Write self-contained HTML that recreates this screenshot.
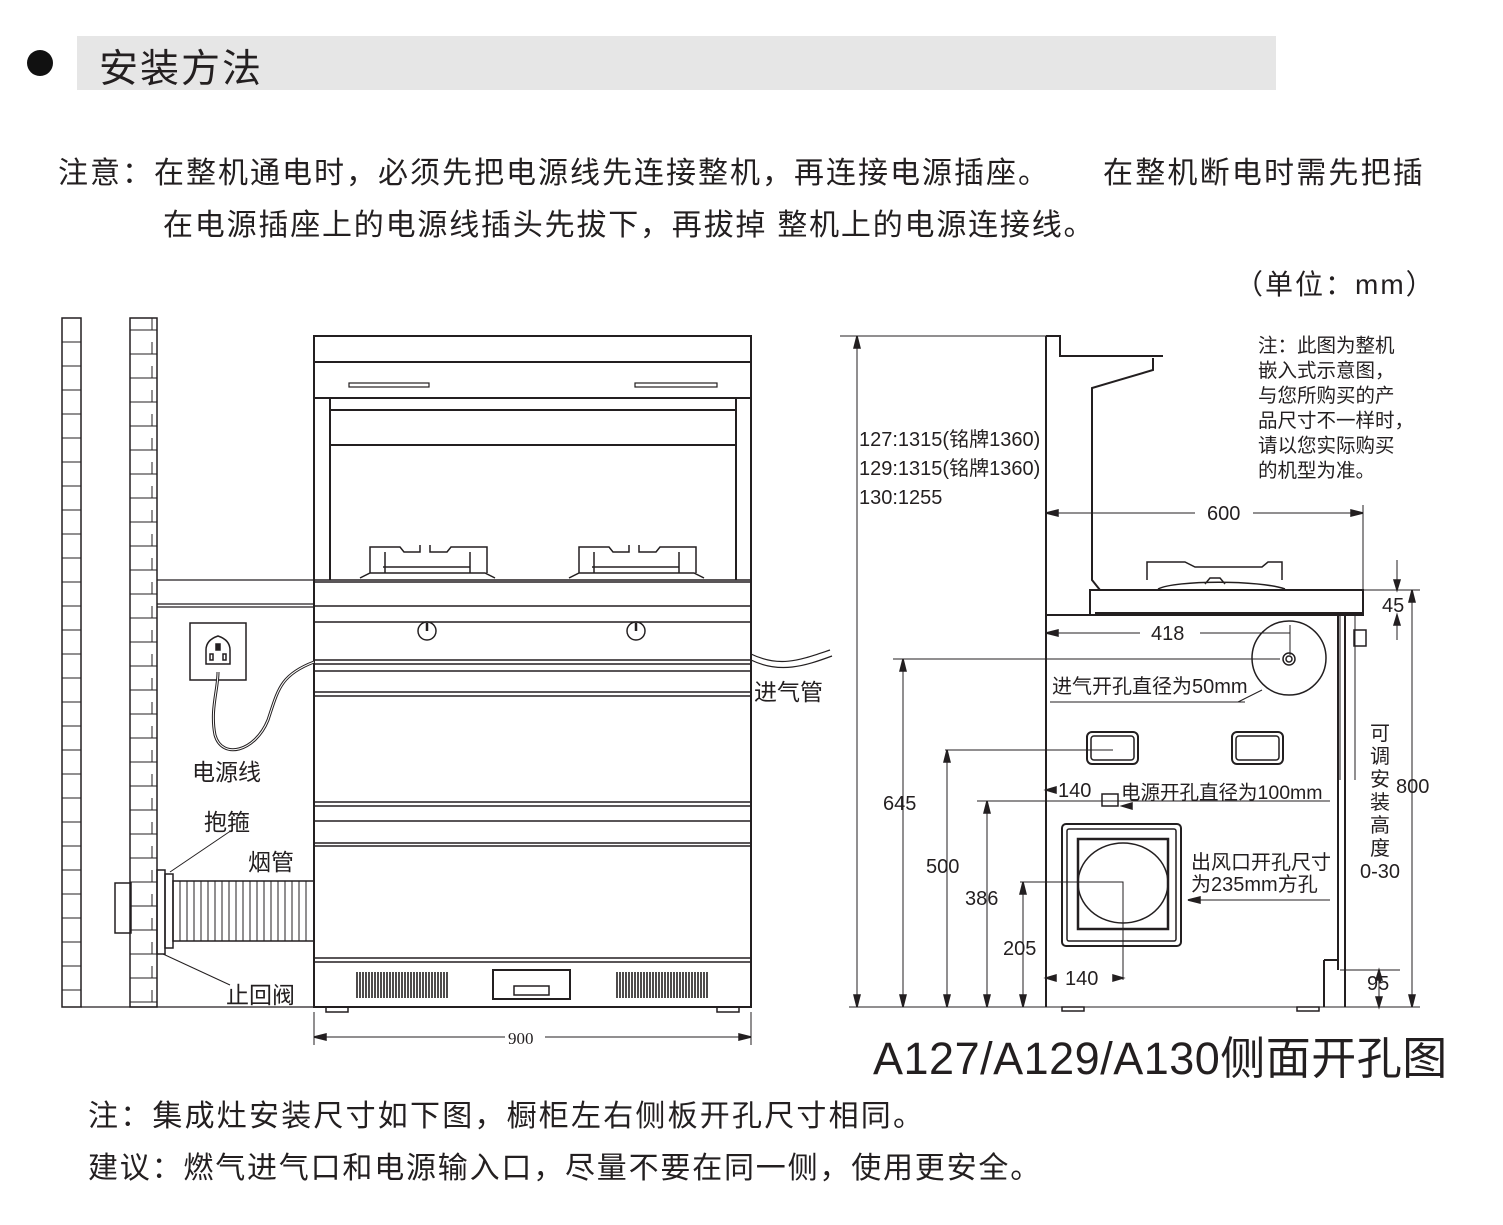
<!DOCTYPE html>
<html><head><meta charset="utf-8"><style>
html,body{margin:0;padding:0;background:#fff;}
body{width:1503px;height:1225px;position:relative;overflow:hidden;font-family:"Liberation Sans","Noto Sans CJK SC",sans-serif;color:#231f20;}
.t{position:absolute;white-space:nowrap;font-family:"Liberation Sans","Noto Sans CJK SC",sans-serif;}
</style></head><body>
<div style="position:absolute;left:77px;top:36px;width:1199px;height:54px;background:#e6e6e6"></div>
<div style="position:absolute;left:27px;top:50px;width:26px;height:26px;border-radius:50%;background:#111"></div>
<div class="t" style="left:99px;top:38px;font-size:39px;letter-spacing:2px;">安装方法</div>
<div class="t" style="left:58px;top:148px;font-size:30px;letter-spacing:2px;">注意：在整机通电时，必须先把电源线先连接整机，再连接电源插座。</div>
<div class="t" style="left:1103px;top:148px;font-size:30px;letter-spacing:2.2px;">在整机断电时需先把插</div>
<div class="t" style="left:163px;top:200px;font-size:30px;letter-spacing:1.8px;">在电源插座上的电源线插头先拔下，再拔掉 整机上的电源连接线。</div>
<div class="t" style="left:1235px;top:263px;font-size:28px;letter-spacing:2px;">（单位：mm）</div>
<div class="t" style="left:873px;top:1022px;font-size:45px;letter-spacing:0.5px;">A127/A129/A130侧面开孔图</div>
<div class="t" style="left:88px;top:1091px;font-size:30px;letter-spacing:2.2px;">注：集成灶安装尺寸如下图，橱柜左右侧板开孔尺寸相同。</div>
<div class="t" style="left:88px;top:1143px;font-size:30px;letter-spacing:1.8px;">建议：燃气进气口和电源输入口，尽量不要在同一侧，使用更安全。</div>

<svg width="1503" height="1225" style="position:absolute;left:0;top:0" xmlns="http://www.w3.org/2000/svg" font-family="Liberation Sans, Noto Sans CJK SC, sans-serif" fill="none" stroke="#231f20" stroke-width="1.5">
<rect x="62" y="318" width="19" height="689"/>
<rect x="130" y="318" width="27" height="689"/>
<g stroke-width="1">
<path d="M62 342H81M62 366H81M62 390H81M62 414H81M62 438H81M62 462H81M62 486H81M62 510H81M62 534H81M62 558H81M62 582H81M62 606H81M62 630H81M62 654H81M62 678H81M62 702H81M62 726H81M62 750H81M62 774H81M62 798H81M62 822H81M62 846H81M62 870H81M62 894H81M62 918H81M62 942H81M62 966H81M62 990H81"/>
<path d="M130 330H157M130 354H157M130 378H157M130 402H157M130 426H157M130 450H157M130 474H157M130 498H157M130 522H157M130 546H157M130 570H157M130 594H157M130 618H157M130 642H157M130 666H157M130 690H157M130 714H157M130 738H157M130 762H157M130 786H157M130 810H157M130 834H157M130 858H157M130 882H157M130 906H157M130 930H157M130 954H157M130 978H157M130 1002H157"/>
<path d="M152 318V1007" stroke-dasharray="12 12"/>
</g>
<path d="M81 1007H314M157 580H314M157 607H314M157 604H314" stroke-width="1.2"/>
<rect x="314" y="336" width="437" height="671" stroke-width="2"/>
<path d="M314 362H751M314 398H751M330 398V580M736 398V580M330 410H736M330 445H736" stroke-width="2"/>
<rect x="349" y="383" width="80" height="4" stroke-width="1.2"/>
<rect x="635" y="383" width="82" height="4" stroke-width="1.2"/>
<path d="M314 580H751M314 582H751M314 606H751M314 622H751M314 660H751M314 664H751M314 671H751M314 692H751M314 696H751M314 802H751M314 806H751M314 821H751M314 843H751M314 846H751M314 958H751M314 962H751" stroke-width="1.5"/>
<g stroke-width="1.5">
<path d="M360 578L370 573H485L495 578M370 573V547H400L404 552H420V545M430 545V552H447L451 547H487V573M385 573V552M470 573V552M383 567H470"/>
<path d="M569 578L579 573H694L704 578M579 573V547H609L613 552H629V545M639 545V552H656L660 547H696V573M594 573V552M679 573V552M592 567H679"/>
</g>
<circle cx="427" cy="631" r="9"/><path d="M427 623V631" stroke-width="2.5"/>
<circle cx="636" cy="631" r="9"/><path d="M636 623V631" stroke-width="2.5"/>
<g stroke-width="1.6">
<path d="M357 972V998M360 972V998M363 972V998M366 972V998M369 972V998M372 972V998M375 972V998M378 972V998M381 972V998M384 972V998M387 972V998M390 972V998M393 972V998M396 972V998M399 972V998M402 972V998M405 972V998M408 972V998M411 972V998M414 972V998M417 972V998M420 972V998M423 972V998M426 972V998M429 972V998M432 972V998M435 972V998M438 972V998M441 972V998M444 972V998M447 972V998"/>
<path d="M617 972V998M620 972V998M623 972V998M626 972V998M629 972V998M632 972V998M635 972V998M638 972V998M641 972V998M644 972V998M647 972V998M650 972V998M653 972V998M656 972V998M659 972V998M662 972V998M665 972V998M668 972V998M671 972V998M674 972V998M677 972V998M680 972V998M683 972V998M686 972V998M689 972V998M692 972V998M695 972V998M698 972V998M701 972V998M704 972V998M707 972V998"/>
</g>
<rect x="493" y="970" width="77" height="29" stroke-width="2"/>
<rect x="514" y="986" width="35" height="9"/>
<rect x="326" y="1007" width="22" height="5"/><rect x="717" y="1007" width="22" height="5"/>
<path d="M314 1012V1045M751 1012V1045M314 1037H505M545 1037H751" stroke-width="1"/>
<path d="M314 1037l12-3v6zM751 1037l-12-3v6z" fill="#231f20"/>
<text x="508" y="1044" font-size="17" fill="#231f20" stroke="none" font-family="Liberation Serif, serif">900</text>
<rect x="190" y="623" width="56" height="57"/>
<path d="M206 664V650Q206 640 218 636Q230 640 230 650V664Z" stroke-width="1.5"/>
<rect x="216" y="644" width="4" height="6" fill="#231f20"/><rect x="210" y="654" width="3" height="6"/><rect x="223" y="654" width="3" height="6"/>
<path d="M218 672C218 690 210 710 215 735C222 760 255 752 268 720C278 690 280 675 314 662" stroke-width="3"/>
<path d="M218 672C218 690 210 710 215 735C222 760 255 752 268 720C278 690 280 675 314 662" stroke="#fff" stroke-width="1"/>
<path d="M751 654C780 668 800 660 830 650M751 660C780 674 805 666 832 656" stroke-width="1.2"/>
<rect x="115" y="883" width="16" height="50"/>
<rect x="157" y="870" width="8" height="84"/>
<rect x="165" y="874" width="8" height="74"/>
<rect x="173" y="881" width="141" height="60"/>
<path d="M180 881V941M187 881V941M194 881V941M201 881V941M208 881V941M215 881V941M222 881V941M229 881V941M236 881V941M243 881V941M250 881V941M257 881V941M264 881V941M271 881V941M278 881V941M285 881V941M292 881V941M299 881V941M306 881V941" stroke-width="1"/>
<path d="M170 872L232 830M163 954L230 985" stroke-width="1"/>
<g fill="#231f20" stroke="none" font-size="23">
<text x="192" y="780">电源线</text>
<text x="204" y="830">抱箍</text>
<text x="248" y="870">烟管</text>
<text x="226" y="1003">止回阀</text>
<text x="754" y="700">进气管</text>
</g>

<g stroke-width="1.5">
<path d="M840 336H1046M857 336V1007M849 1007H1420" stroke-width="1"/>
<path d="M857 336l-3 12h6zM857 1007l-3-12h6z" fill="#231f20"/>
<path d="M1046 336V1007M1046 336H1060V356H1163M1153 358V370L1092 388V580L1100 590M1090 590H1363V615H1090ZM1046 615H1345M1095 613H1363" stroke-width="2"/>
<path d="M1345 615V1007M1338 615V970M1324 960V1007M1324 960H1338" stroke-width="2"/>
<path d="M1340 615V780M1355 615V780" stroke-width="1"/>
<rect x="1354" y="630" width="12" height="16"/>
<path d="M1147 580V562H1185L1195 567H1262L1268 562H1282V580M1158 589C1175 580 1260 580 1285 589M1205 584L1210 578H1220L1225 584"/>
<path d="M1046 513H1195M1253 513H1363M1363 505V590" stroke-width="1"/>
<path d="M1046 513l12-3v6zM1363 513l-12-3v6z" fill="#231f20"/>
<path d="M1363 590H1420M1397 560V588M1397 617V640M1412 590V1007" stroke-width="1"/>
<path d="M1397 590l-3-10h6zM1397 615l-3 10h6zM1412 590l-3 12h6zM1412 1007l-3-12h6z" fill="#231f20"/>
<path d="M1340 970H1400M1379 975V1005" stroke-width="1"/>
<path d="M1379 970l-3 10h6zM1379 1007l-3-10h6z" fill="#231f20"/>
<path d="M1046 633H1140M1200 633H1290M1290 625V655" stroke-width="1"/>
<path d="M1046 633l12-3v6z" fill="#231f20"/>
<circle cx="1289" cy="658" r="37"/>
<circle cx="1289" cy="659" r="6"/><circle cx="1289" cy="659" r="3"/>
<path d="M893 659H1280M903 665V1007M1262 690L1238 702M1050 702H1245" stroke-width="1"/>
<path d="M903 659l-3 12h6zM903 1007l-3-12h6z" fill="#231f20"/>
<rect x="1087" y="732" width="51" height="32" rx="5" stroke-width="2"/><rect x="1091" y="736" width="43" height="24" rx="3"/>
<rect x="1232" y="732" width="51" height="32" rx="5" stroke-width="2"/><rect x="1236" y="736" width="43" height="24" rx="3"/>
<path d="M945 750H1113M947 755V1007" stroke-width="1"/>
<path d="M947 750l-3 12h6zM947 1007l-3-12h6z" fill="#231f20"/>
<path d="M977 801H1330M987 806V1007" stroke-width="1"/>
<path d="M987 801l-3 12h6zM987 1007l-3-12h6z" fill="#231f20"/>
<rect x="1102" y="794" width="16" height="12"/>
<path d="M1046 790l10-3v6zM1122 806l10-3v6z" fill="#231f20"/>
<rect x="1062" y="824" width="119" height="122" rx="4" stroke-width="2"/>
<rect x="1067" y="829" width="109" height="112" rx="2"/>
<rect x="1078" y="839" width="90" height="90" stroke-width="2.5"/>
<ellipse cx="1123" cy="883" rx="45" ry="40"/>
<path d="M1020 882H1123V980M1023 887V1007M1190 900H1330" stroke-width="1"/>
<path d="M1023 882l-3 12h6zM1023 1007l-3-12h6zM1188 900l12-3v6zM1046 978l10-3v6zM1123 978l-10-3v6z" fill="#231f20"/>
<rect x="1062" y="1007" width="22" height="4"/><rect x="1297" y="1007" width="22" height="4"/>
</g>
<g fill="#231f20" stroke="none" font-size="20">
<text x="859" y="446">127:1315(铭牌1360)</text>
<text x="859" y="475">129:1315(铭牌1360)</text>
<text x="859" y="504">130:1255</text>
<text x="1207" y="520">600</text>
<text x="1151" y="640">418</text>
<text x="1382" y="612">45</text>
<text x="1396" y="793">800</text>
<text x="1367" y="990">95</text>
<text x="883" y="810">645</text>
<text x="926" y="873">500</text>
<text x="965" y="905">386</text>
<text x="1003" y="955">205</text>
<text x="1058" y="797">140</text>
<text x="1065" y="985">140</text>
<text x="1052" y="693">进气开孔直径为50mm</text>
<text x="1121" y="799" font-size="19.5">电源开孔直径为100mm</text>
<text x="1191" y="869">出风口开孔尺寸</text>
<text x="1191" y="891">为235mm方孔</text>
<text x="1370" y="740">可</text>
<text x="1370" y="763">调</text>
<text x="1370" y="786">安</text>
<text x="1370" y="809">装</text>
<text x="1370" y="832">高</text>
<text x="1370" y="855">度</text>
<text x="1360" y="878">0-30</text>
</g>
<g fill="#231f20" stroke="none" font-size="19.5">
<text x="1258" y="352">注：此图为整机</text>
<text x="1258" y="377">嵌入式示意图，</text>
<text x="1258" y="402">与您所购买的产</text>
<text x="1258" y="427">品尺寸不一样时，</text>
<text x="1258" y="452">请以您实际购买</text>
<text x="1258" y="477">的机型为准。</text>
</g>
</svg>
</body></html>
